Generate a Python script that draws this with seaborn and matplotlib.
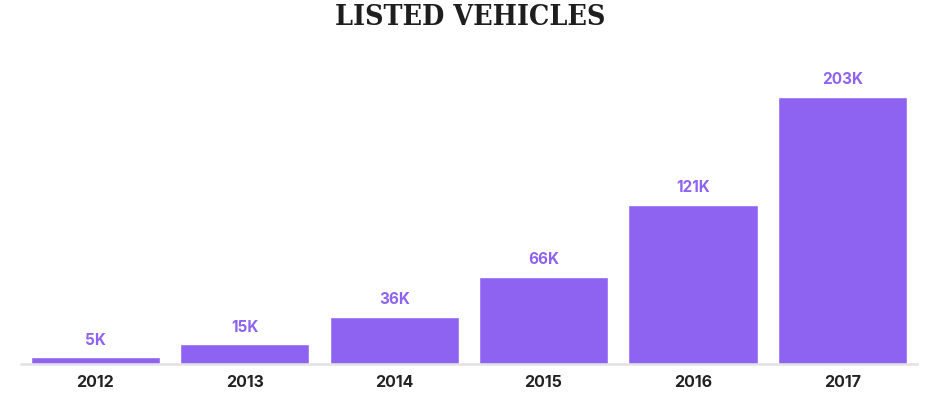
import pandas as pd
import matplotlib.pyplot as plt
import seaborn as sns

# Listed vehicles per year (thousands)
years = ['2012', '2013', '2014', '2015', '2016', '2017']
listed = [5, 15, 36, 66, 121, 203]
value_labels = ['5K', '15K', '36K', '66K', '121K', '203K']

df = pd.DataFrame({'year': years, 'listed': listed})

sns.set_style('white')
plt.rcParams['font.family'] = ['Inter', 'DejaVu Sans']

purple = '#8F63F2'

fig = plt.figure(figsize=(9.4, 3.93), dpi=100)
ax = fig.add_axes([0.0221, 0.0738, 0.9534, 0.773])

sns.barplot(data=df, x='year', y='listed', color=purple, saturation=1, width=0.865, ax=ax)

ax.bar_label(ax.containers[0], labels=value_labels, padding=7,
             color=purple, fontsize=11, fontweight='bold')

ax.set_xlim(-0.5, 5.5)
ax.set_ylim(0, 231)
ax.set_xlabel('')
ax.set_ylabel('')
ax.set_yticks([])
ax.tick_params(axis='x', length=0, pad=8, labelsize=11.5, labelcolor='#222222')
for lbl in ax.get_xticklabels():
    lbl.set_fontweight('bold')

sns.despine(ax=ax, left=True)
ax.spines['bottom'].set_color('#e2e2e2')
ax.spines['bottom'].set_linewidth(1.8)

fig.text(0.5, 0.99, 'LISTED VEHICLES', ha='center', va='top',
         fontsize=20.5, fontweight='bold', family='DejaVu Serif',
         fontstretch='condensed', color='#1e1e1e')

fig.savefig('out.png', dpi=100)
